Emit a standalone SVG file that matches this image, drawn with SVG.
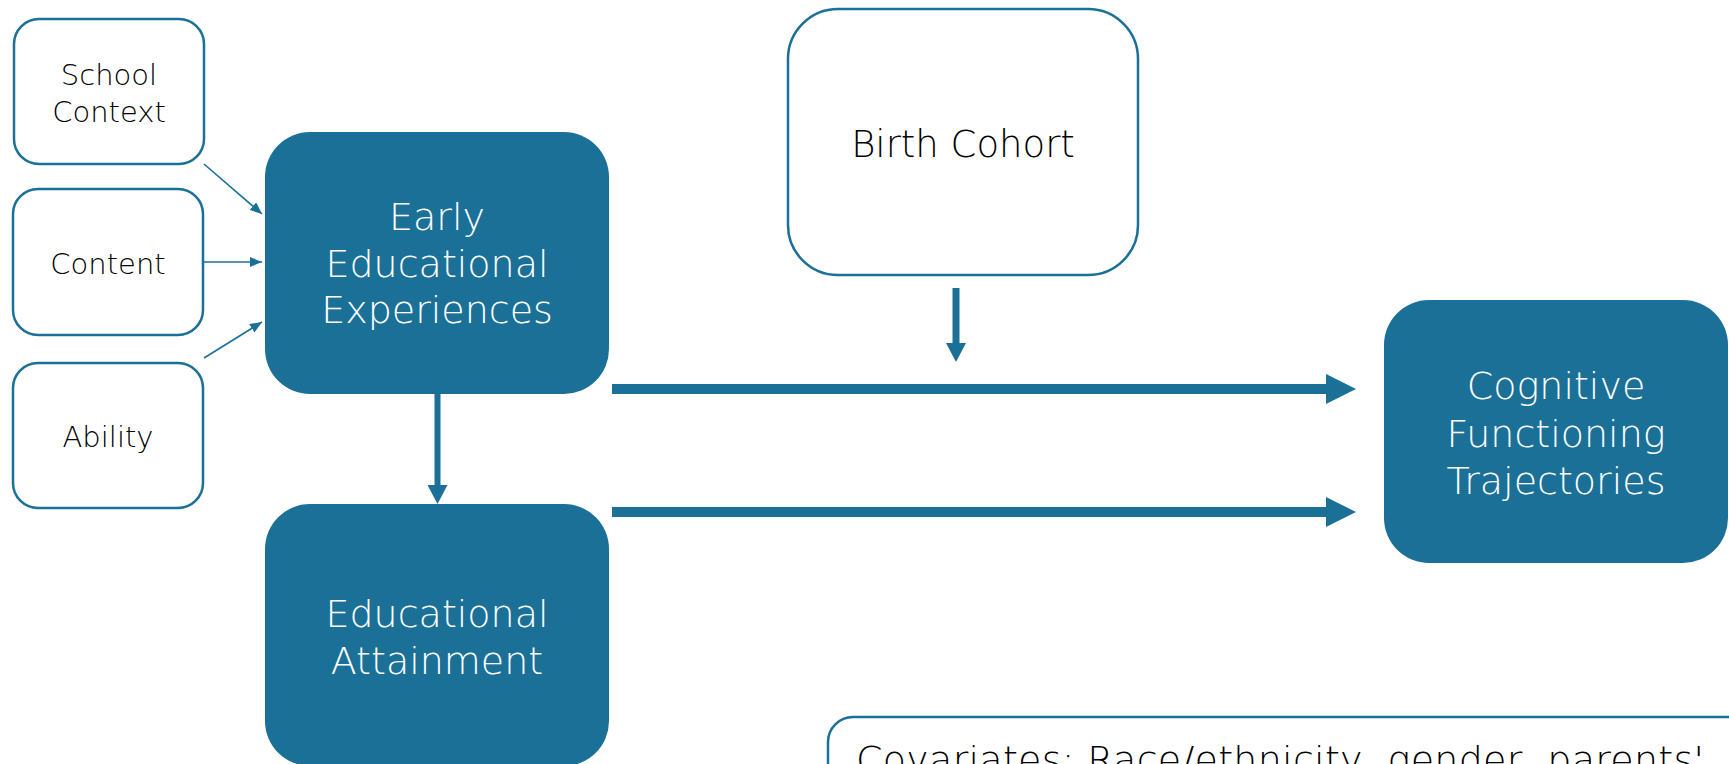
<svg xmlns="http://www.w3.org/2000/svg" width="1729" height="764" viewBox="0 0 1729 764">
<style>
.filled{fill:#1b7098;}
.outline{fill:#ffffff;stroke:#1b7098;stroke-width:2.5;}
.t{font-family:"DejaVu Sans",sans-serif;text-anchor:middle;font-weight:300;}
.w{fill:#ffffff;font-size:38px;}
.k{fill:#000000;}
.small{font-size:29px;}
.thin{stroke:#1b7098;stroke-width:1.6;fill:none;}
.thick{stroke:#1b7098;fill:none;}
</style>
<defs>
<marker id="mThin" markerUnits="userSpaceOnUse" markerWidth="12" markerHeight="10" refX="12" refY="5" orient="auto" viewBox="0 0 12 10"><path d="M0,0 L12,5 L0,10 z" fill="#1b7098"/></marker>
<marker id="mMed" markerUnits="userSpaceOnUse" markerWidth="19" markerHeight="20" refX="0" refY="10" orient="auto" viewBox="0 0 19 20"><path d="M0,0 L19,10 L0,20 z" fill="#1b7098"/></marker>
<marker id="mBig" markerUnits="userSpaceOnUse" markerWidth="30" markerHeight="30" refX="0" refY="15" orient="auto" viewBox="0 0 30 30"><path d="M0,0 L30,15 L0,30 z" fill="#1b7098"/></marker>
</defs>
<rect width="1729" height="764" fill="#ffffff"/>

<g id="connectors">
<line class="thin" x1="204" y1="164" x2="262" y2="214" marker-end="url(#mThin)"/>
<line class="thin" x1="204" y1="262" x2="262" y2="262" marker-end="url(#mThin)"/>
<line class="thin" x1="204" y1="358" x2="262" y2="322" marker-end="url(#mThin)"/>
<line class="thick" stroke-width="6" x1="437.5" y1="394" x2="437.5" y2="485" marker-end="url(#mMed)"/>
<line class="thick" stroke-width="7" x1="956" y1="288" x2="956" y2="343" marker-end="url(#mMed)"/>
<line class="thick" stroke-width="10" x1="612" y1="389" x2="1326" y2="389" marker-end="url(#mBig)"/>
<line class="thick" stroke-width="10" x1="612" y1="512" x2="1326" y2="512" marker-end="url(#mBig)"/>
</g>

<g id="school-context">
<rect class="outline" x="14" y="19" width="190" height="145" rx="25"/>
<text class="t k small" x="109" y="85">School</text>
<text class="t k small" x="109" y="122">Context</text>
</g>
<g id="content">
<rect class="outline" x="13" y="189" width="190" height="146" rx="25"/>
<text class="t k small" x="108" y="274">Content</text>
</g>
<g id="ability">
<rect class="outline" x="13" y="363" width="190" height="145" rx="25"/>
<text class="t k small" x="108" y="447">Ability</text>
</g>
<g id="early-educational-experiences">
<rect class="filled" x="265" y="132" width="344" height="262" rx="45"/>
<text class="t w" x="437" y="230">Early</text>
<text class="t w" x="437" y="277">Educational</text>
<text class="t w" x="437" y="323">Experiences</text>
</g>
<g id="educational-attainment">
<rect class="filled" x="265" y="504" width="344" height="262" rx="45"/>
<text class="t w" x="437" y="627">Educational</text>
<text class="t w" x="437" y="674">Attainment</text>
</g>
<g id="birth-cohort">
<rect class="outline" x="788" y="9" width="350" height="266" rx="50"/>
<text class="t k" font-size="37" x="963" y="157">Birth Cohort</text>
</g>
<g id="cognitive-functioning-trajectories">
<rect class="filled" x="1384" y="300" width="344" height="263" rx="45"/>
<text class="t w" x="1556" y="399">Cognitive</text>
<text class="t w" x="1556" y="447">Functioning</text>
<text class="t w" x="1556" y="494">Trajectories</text>
</g>
<g id="covariates">
<rect class="outline" x="828" y="717" width="960" height="120" rx="25"/>
<text class="k" font-family="DejaVu Sans, sans-serif" font-weight="300" font-size="38" x="856" y="773" textLength="848">Covariates: Race/ethnicity, gender, parents'</text>
</g>
</svg>
